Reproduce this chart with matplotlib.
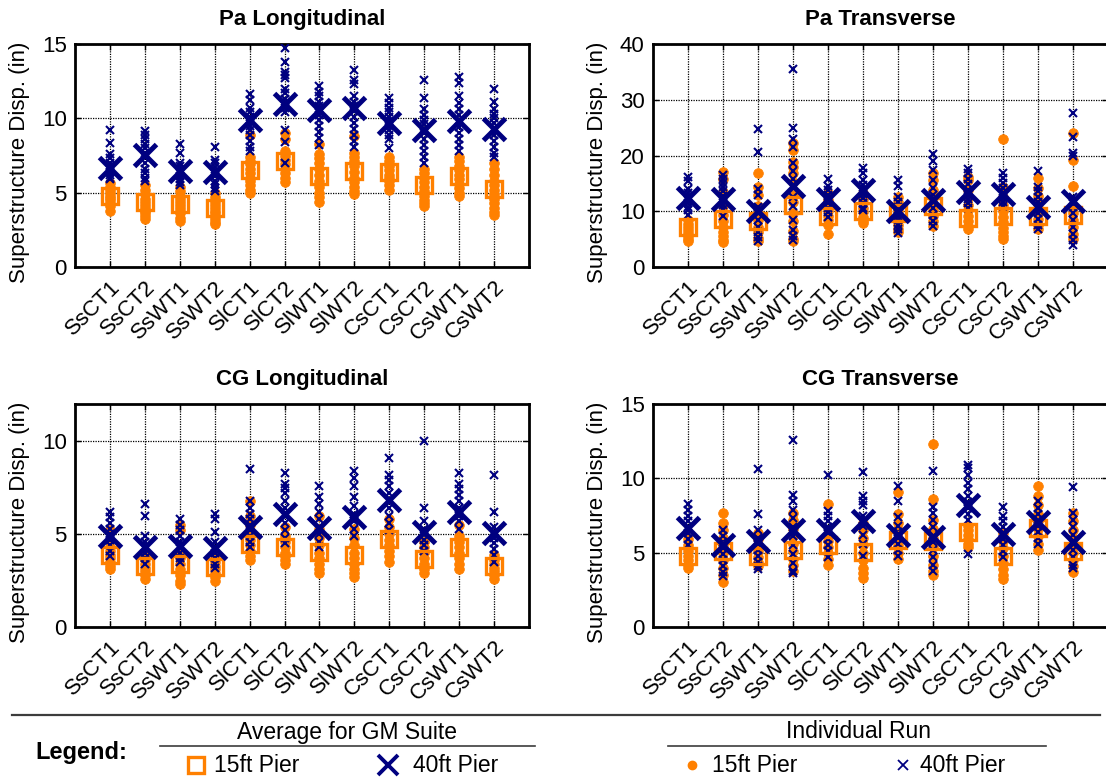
import numpy as np
import matplotlib
matplotlib.use("Agg")
import matplotlib.pyplot as plt

plt.rcParams["font.family"] = ["Liberation Sans", "DejaVu Sans"]

ORANGE = "#FF8000"
NAVY = "#000080"

categories = ["SsCT1", "SsCT2", "SsWT1", "SsWT2", "SlCT1", "SlCT2",
              "SlWT1", "SlWT2", "CsCT1", "CsCT2", "CsWT1", "CsWT2"]

# ---------------- Pa Longitudinal ----------------
pa_long_avg15 = [4.75, 4.37, 4.26, 3.97, 6.55, 7.15, 6.14, 6.43, 6.37, 5.54, 6.1, 5.25]
pa_long_avg40 = [6.66, 7.56, 6.43, 6.39, 9.87, 10.99, 10.58, 10.7, 9.69, 9.19, 9.8, 9.28]
pa_long_runs15 = [
    [5.65, 5.4, 5.2, 5.0, 4.8, 4.65, 4.5, 4.3, 4.1, 3.8],
    [5.5, 5.2, 4.9, 4.6, 4.4, 4.2, 4.0, 3.8, 3.6, 3.4, 3.2],
    [5.4, 5.1, 4.8, 4.6, 4.4, 4.2, 4.0, 3.8, 3.6, 3.3, 3.1],
    [5.0, 4.7, 4.4, 4.2, 4.0, 3.8, 3.6, 3.4, 3.2, 3.0, 2.9],
    [8.9, 7.4, 7.1, 6.9, 6.6, 6.3, 6.0, 5.8, 5.5, 5.2, 5.0],
    [9.0, 8.6, 7.8, 7.5, 7.2, 6.9, 6.6, 6.3, 6.0, 5.7],
    [8.3, 7.6, 7.3, 7.0, 6.6, 6.2, 5.8, 5.4, 5.0, 4.7, 4.4],
    [8.8, 7.7, 7.4, 7.1, 6.8, 6.4, 6.0, 5.7, 5.4, 5.1, 4.9],
    [7.4, 7.1, 6.8, 6.5, 6.2, 6.0, 5.8, 5.5, 5.2],
    [6.6, 6.3, 6.0, 5.7, 5.4, 5.1, 4.8, 4.5, 4.3, 4.1],
    [7.4, 7.1, 6.8, 6.5, 6.2, 5.9, 5.6, 5.3, 5.0, 4.8],
    [7.0, 6.6, 6.2, 5.8, 5.5, 5.2, 4.9, 4.6, 4.3, 4.0, 3.7, 3.5],
]
pa_long_runs40 = [
    [9.2, 8.35, 7.6, 7.3, 7.0, 6.8, 6.6, 6.4, 6.2, 6.0, 5.9],
    [9.15, 8.9, 8.6, 8.3, 8.0, 7.7, 7.4, 7.0, 6.6, 6.3, 6.0, 5.8],
    [8.3, 7.7, 7.0, 6.8, 6.5, 6.3, 6.1, 5.9, 5.7, 5.5],
    [8.1, 7.2, 7.0, 6.7, 6.4, 6.1, 5.8, 5.6, 5.3, 5.1],
    [11.65, 11.25, 10.7, 10.4, 10.1, 9.8, 9.5, 9.2, 8.9, 8.5, 8.1, 7.8],
    [14.7, 13.8, 13.15, 12.9, 12.7, 12.0, 11.7, 11.3, 11.0, 10.7, 10.4, 9.2, 8.4, 7.0],
    [12.15, 11.8, 11.5, 11.1, 10.8, 10.5, 10.2, 9.9, 9.5, 9.1, 8.7, 8.2],
    [13.25, 12.6, 12.3, 11.5, 11.1, 10.8, 10.5, 10.1, 9.7, 9.3, 8.9, 8.5, 8.1],
    [11.35, 11.0, 10.7, 10.4, 10.1, 9.8, 9.5, 9.2, 8.9, 8.6, 8.0],
    [12.6, 11.4, 10.6, 10.2, 9.9, 9.6, 9.3, 9.0, 8.6, 8.2, 7.8, 7.4, 7.0],
    [12.8, 12.4, 11.5, 11.0, 10.6, 10.2, 9.8, 9.4, 9.0, 8.6, 8.2, 7.8],
    [12.0, 11.1, 10.6, 10.3, 10.0, 9.7, 9.3, 8.9, 8.5, 8.1, 7.7, 7.4],
]

# ---------------- Pa Transverse ----------------
pa_tran_avg15 = [7.1, 8.67, 8.2, 11.06, 9.2, 10.0, 9.7, 10.9, 8.8, 9.2, 9.2, 9.4]
pa_tran_avg40 = [12.4, 12.26, 10.1, 14.47, 12.2, 13.87, 10.1, 12.08, 13.4, 13.1, 10.76, 11.78]
pa_tran_runs15 = [
    [8.5, 7.8, 7.2, 6.6, 6.1, 5.6, 5.1, 4.7],
    [17.0, 15.8, 13.4, 11.0, 9.4, 8.2, 7.2, 6.3, 5.5, 4.9, 4.5],
    [16.8, 14.3, 13.0, 10.9, 9.6, 8.4, 7.2, 6.2, 5.2, 4.6],
    [22.2, 21.0, 18.9, 17.9, 16.8, 15.2, 13.0, 11.6, 9.6, 8.3, 6.5, 5.0, 4.6],
    [13.2, 12.0, 11.0, 10.0, 9.2, 8.4, 7.5, 5.9],
    [13.3, 12.2, 11.4, 10.6, 9.8, 9.0, 8.3, 7.9],
    [12.6, 11.6, 10.8, 10.0, 9.2, 8.4, 7.6, 6.8, 6.2],
    [16.8, 15.6, 13.8, 12.4, 11.2, 10.2, 9.2, 8.2, 7.4],
    [16.2, 15.6, 13.8, 12.4, 11.2, 10.2, 9.2, 8.3, 7.4, 6.8],
    [22.9, 14.4, 12.6, 11.2, 10.0, 9.0, 8.0, 7.0, 6.2, 5.5, 5.0],
    [16.0, 14.2, 12.8, 11.6, 10.6, 9.6, 8.6, 7.6, 6.8],
    [24.1, 19.2, 14.5, 10.9, 9.6, 8.4, 7.2, 6.0, 5.0],
]
pa_tran_runs40 = [
    [16.2, 15.4, 14.0, 13.2, 12.6, 12.0, 11.4, 10.8, 10.2, 9.4],
    [16.5, 15.8, 15.0, 14.3, 13.6, 12.8, 12.0, 11.2, 10.4, 9.1],
    [24.8, 20.6, 14.0, 13.0, 10.8, 9.6, 8.4, 7.2, 6.2, 5.4, 4.6],
    [35.5, 25.0, 22.9, 21.5, 18.7, 17.2, 15.8, 14.5, 12.5, 10.9, 8.5, 6.7, 5.5, 4.9],
    [15.8, 14.6, 13.8, 13.0, 12.2, 11.4, 10.6, 9.8, 9.0],
    [17.7, 16.8, 15.6, 14.7, 13.9, 13.1, 12.3, 11.5, 10.6, 10.2],
    [15.6, 14.5, 12.6, 11.6, 10.8, 10.0, 9.2, 8.4, 7.6, 6.8, 6.1],
    [20.2, 19.0, 17.4, 15.6, 14.2, 13.0, 11.8, 10.6, 9.4, 8.2, 7.3],
    [17.5, 16.8, 15.8, 14.8, 13.8, 13.0, 12.2, 11.4, 10.6],
    [16.8, 16.0, 15.0, 14.1, 13.2, 12.4, 11.6, 10.9],
    [17.2, 14.4, 13.6, 12.6, 11.6, 10.6, 9.6, 8.6, 7.6, 6.8],
    [27.7, 23.3, 20.5, 20.0, 12.6, 10.8, 9.6, 8.4, 7.2, 6.0, 4.8, 4.0],
]

# ---------------- CG Longitudinal ----------------
cg_long_avg15 = [3.88, 3.26, 3.4, 3.22, 4.47, 4.28, 4.06, 3.88, 4.74, 3.65, 4.29, 3.29]
cg_long_avg40 = [4.87, 4.33, 4.37, 4.24, 5.4, 6.08, 5.31, 5.94, 6.83, 5.13, 6.2, 5.04]
cg_long_runs15 = [
    [5.2, 4.3, 4.1, 3.9, 3.7, 3.5, 3.3, 3.1],
    [3.8, 3.6, 3.4, 3.2, 3.0, 2.8, 2.6],
    [5.5, 5.2, 4.0, 3.7, 3.4, 3.1, 2.8, 2.5, 2.3],
    [3.8, 3.5, 3.3, 3.1, 2.9, 2.7, 2.5],
    [6.8, 6.0, 5.5, 5.1, 4.7, 4.4, 4.1, 3.8, 3.6],
    [5.4, 4.9, 4.6, 4.3, 4.0, 3.8, 3.6, 3.4],
    [6.0, 5.3, 4.8, 4.4, 4.0, 3.7, 3.4, 3.1, 2.9],
    [5.3, 4.8, 4.4, 4.0, 3.7, 3.4, 3.1, 2.9, 2.7],
    [5.8, 5.4, 5.0, 4.7, 4.4, 4.1, 3.8, 3.5],
    [4.6, 4.3, 4.0, 3.7, 3.4, 3.1, 2.9],
    [5.5, 4.9, 4.6, 4.3, 4.0, 3.7, 3.4, 3.1],
    [3.9, 3.6, 3.4, 3.2, 3.0, 2.8, 2.6],
]
cg_long_runs40 = [
    [6.2, 5.9, 5.6, 5.3, 5.0, 4.7, 4.4, 4.1, 3.8],
    [6.6, 6.0, 4.9, 4.6, 4.3, 4.0, 3.7, 3.4],
    [5.8, 5.5, 5.2, 4.9, 4.6, 4.3, 4.0, 3.7, 3.5],
    [6.1, 5.8, 5.1, 4.6, 4.3, 4.0, 3.7, 3.4, 3.2],
    [8.5, 6.8, 6.4, 6.1, 5.8, 5.5, 5.2, 4.9, 4.6, 4.3],
    [8.3, 7.7, 7.5, 7.2, 6.8, 6.4, 6.0, 5.6, 5.2, 4.8, 4.5],
    [7.6, 7.0, 6.6, 6.2, 5.8, 5.4, 5.0, 4.6, 4.3],
    [8.4, 8.0, 7.6, 7.0, 6.5, 6.1, 5.7, 5.3, 4.9],
    [9.1, 8.2, 7.9, 7.6, 7.2, 6.8, 6.4, 6.0, 5.6, 5.2],
    [10.0, 6.4, 5.7, 5.3, 5.0, 4.7, 4.4, 4.1],
    [8.3, 7.7, 7.4, 7.1, 6.8, 6.4, 6.0, 5.7, 5.3],
    [8.2, 6.2, 5.4, 5.1, 4.8, 4.5, 4.2, 3.9, 3.5],
]

# ---------------- CG Transverse ----------------
cg_tran_avg15 = [4.8, 5.09, 4.75, 5.2, 5.52, 5.02, 5.87, 5.76, 6.37, 4.75, 6.66, 5.09]
cg_tran_avg40 = [6.66, 5.54, 5.76, 6.5, 6.55, 7.1, 6.21, 6.03, 8.23, 6.26, 7.04, 5.7]
cg_tran_runs15 = [
    [5.9, 5.5, 5.1, 4.8, 4.5, 4.2, 4.0],
    [7.7, 7.0, 6.5, 6.0, 5.5, 5.0, 4.5, 4.0, 3.5, 3.0],
    [6.3, 5.9, 5.5, 5.1, 4.7, 4.4, 4.1],
    [7.7, 7.2, 6.6, 6.1, 5.6, 5.1, 4.6, 4.2, 3.8],
    [8.3, 6.2, 5.8, 5.4, 5.0, 4.6, 4.2],
    [7.0, 6.5, 6.0, 5.5, 5.0, 4.5, 4.0, 3.6, 3.3],
    [9.1, 7.6, 7.0, 6.5, 6.0, 5.5, 5.0, 4.6],
    [12.3, 8.6, 7.2, 6.6, 6.0, 5.4, 4.8, 4.2, 3.8, 3.5],
    [6.8, 6.5, 6.2, 5.9, 5.6, 5.4],
    [6.3, 5.8, 5.3, 4.8, 4.3, 3.9, 3.5, 3.2],
    [9.5, 8.8, 8.2, 7.6, 7.1, 6.6, 6.1, 5.6, 5.2],
    [7.7, 7.1, 6.5, 6.0, 5.5, 5.0, 4.5, 4.1, 3.7],
]
cg_tran_runs40 = [
    [8.3, 7.9, 7.5, 7.1, 6.7, 6.3, 5.9, 5.5],
    [6.5, 6.1, 5.7, 5.3, 4.9, 4.5, 4.1, 3.7, 3.4],
    [10.6, 7.6, 6.5, 6.0, 5.6, 5.2, 4.8, 4.4, 4.1, 3.9],
    [12.6, 8.9, 8.5, 7.9, 7.3, 6.7, 6.1, 5.5, 4.9, 4.3, 3.8, 3.6],
    [10.2, 7.8, 7.5, 7.1, 6.7, 6.3, 5.9, 5.5, 5.1, 4.7],
    [10.4, 8.8, 8.5, 8.2, 7.5, 6.8, 6.2, 5.6, 4.8],
    [9.5, 8.5, 7.4, 6.8, 6.4, 6.0, 5.6, 5.2, 4.8],
    [10.5, 8.1, 7.7, 7.2, 6.7, 6.2, 5.7, 5.2, 4.7, 4.2, 3.8],
    [10.9, 10.7, 10.2, 9.7, 9.3, 8.8, 8.4, 8.0, 7.6, 7.2, 4.9],
    [8.1, 7.5, 7.1, 6.7, 6.3, 5.9, 5.5, 5.1, 4.7],
    [8.5, 8.0, 7.6, 7.2, 6.8, 6.4, 6.0, 5.6],
    [9.4, 7.7, 7.2, 6.7, 6.2, 5.7, 5.2, 4.7, 4.2, 4.0],
]

panels = [
    ("Pa Longitudinal", 15, [0, 5, 10, 15], pa_long_avg15, pa_long_avg40, pa_long_runs15, pa_long_runs40),
    ("Pa Transverse", 40, [0, 10, 20, 30, 40], pa_tran_avg15, pa_tran_avg40, pa_tran_runs15, pa_tran_runs40),
    ("CG Longitudinal", 12, [0, 5, 10], cg_long_avg15, cg_long_avg40, cg_long_runs15, cg_long_runs40),
    ("CG Transverse", 15, [0, 5, 10, 15], cg_tran_avg15, cg_tran_avg40, cg_tran_runs15, cg_tran_runs40),
]

W, H = 1106, 783
fig = plt.figure(figsize=(W / 100, H / 100), dpi=100)

# axes boxes in pixels: (left, top, width, height)
boxes = [(75, 44, 454, 223), (653, 44, 455, 223),
         (75, 404, 454, 223), (653, 404, 455, 223)]

FS = 16
x = np.arange(1, len(categories) + 1)

for (title, ymax, yticks, avg15, avg40, runs15, runs40), (l, t, w, h) in zip(panels, boxes):
    ax = fig.add_axes([l / W, 1 - (t + h) / H, w / W, h / H])
    for xi, vals in zip(x, runs15):
        ax.plot(np.full(len(vals), xi), vals, ls="none", marker="o", ms=7,
                mfc=ORANGE, mec=ORANGE, mew=0.5, zorder=3)
    for xi, vals in zip(x, runs40):
        ax.plot(np.full(len(vals), xi), vals, ls="none", marker="x", ms=5.5,
                mec=NAVY, mew=1.5, zorder=4)
    ax.plot(x, avg15, ls="none", marker="s", ms=12, mfc="none", mec=ORANGE,
            mew=2.4, zorder=5)
    ax.plot(x, avg40, ls="none", marker="x", ms=16, mec=NAVY, mew=3.6, zorder=6)

    ax.set_xlim(0, 13)
    ax.set_ylim(0, ymax)
    ax.set_xticks(x)
    ax.set_xticklabels(categories, rotation=45, ha="right", rotation_mode="anchor",
                       fontsize=FS)
    ax.set_yticks(yticks)
    ax.tick_params(axis="y", labelsize=FS, pad=6)
    ax.tick_params(axis="x", pad=7)
    ax.tick_params(direction="in", length=4, width=1, top=True, right=True)
    ax.grid(True, color="black", linestyle=(0, (1, 1)), linewidth=0.9)
    ax.set_axisbelow(True)
    for sp in ax.spines.values():
        sp.set_linewidth(2)
    ax.set_title(title, fontsize=16, fontweight="bold", pad=14)
    ax.set_ylabel("Superstructure Disp. (in)", fontsize=FS)
    ax.yaxis.set_label_coords(-0.099, 0.47)

# legend band along the bottom, laid out in pixel units
lg = fig.add_axes([0, 0, 1, 1], facecolor="none")
lg.set_xlim(0, W)
lg.set_ylim(H, 0)
lg.axis("off")
LFS = 16.5
lg.plot([12, 1100], [715, 715], color="#3c3c3c", lw=1.6)
lg.text(81, 752, "Legend:", fontsize=17, fontweight="bold", ha="center", va="center")

lg.text(347, 732, "Average for GM Suite", fontsize=LFS, ha="center", va="center")
lg.plot([160, 535], [746, 746], color="#3c3c3c", lw=1.2)
lg.plot([196], [765], ls="none", marker="s", ms=11, mfc="none", mec=ORANGE, mew=2.4)
lg.text(214, 765, "15ft Pier", fontsize=LFS, ha="left", va="center")
lg.plot([388], [765], ls="none", marker="x", ms=15, mec=NAVY, mew=2.8)
lg.text(413, 765, "40ft Pier", fontsize=LFS, ha="left", va="center")

lg.text(858, 732, "Individual Run", fontsize=LFS, ha="center", va="center")
lg.plot([668, 1046], [746, 746], color="#3c3c3c", lw=1.2)
lg.plot([692], [765], ls="none", marker="o", ms=6, mfc=ORANGE, mec=ORANGE)
lg.text(712, 765, "15ft Pier", fontsize=LFS, ha="left", va="center")
lg.plot([903], [765], ls="none", marker="x", ms=6.5, mec=NAVY, mew=1.3)
lg.text(920, 765, "40ft Pier", fontsize=LFS, ha="left", va="center")

fig.savefig("out.png", dpi=100)
